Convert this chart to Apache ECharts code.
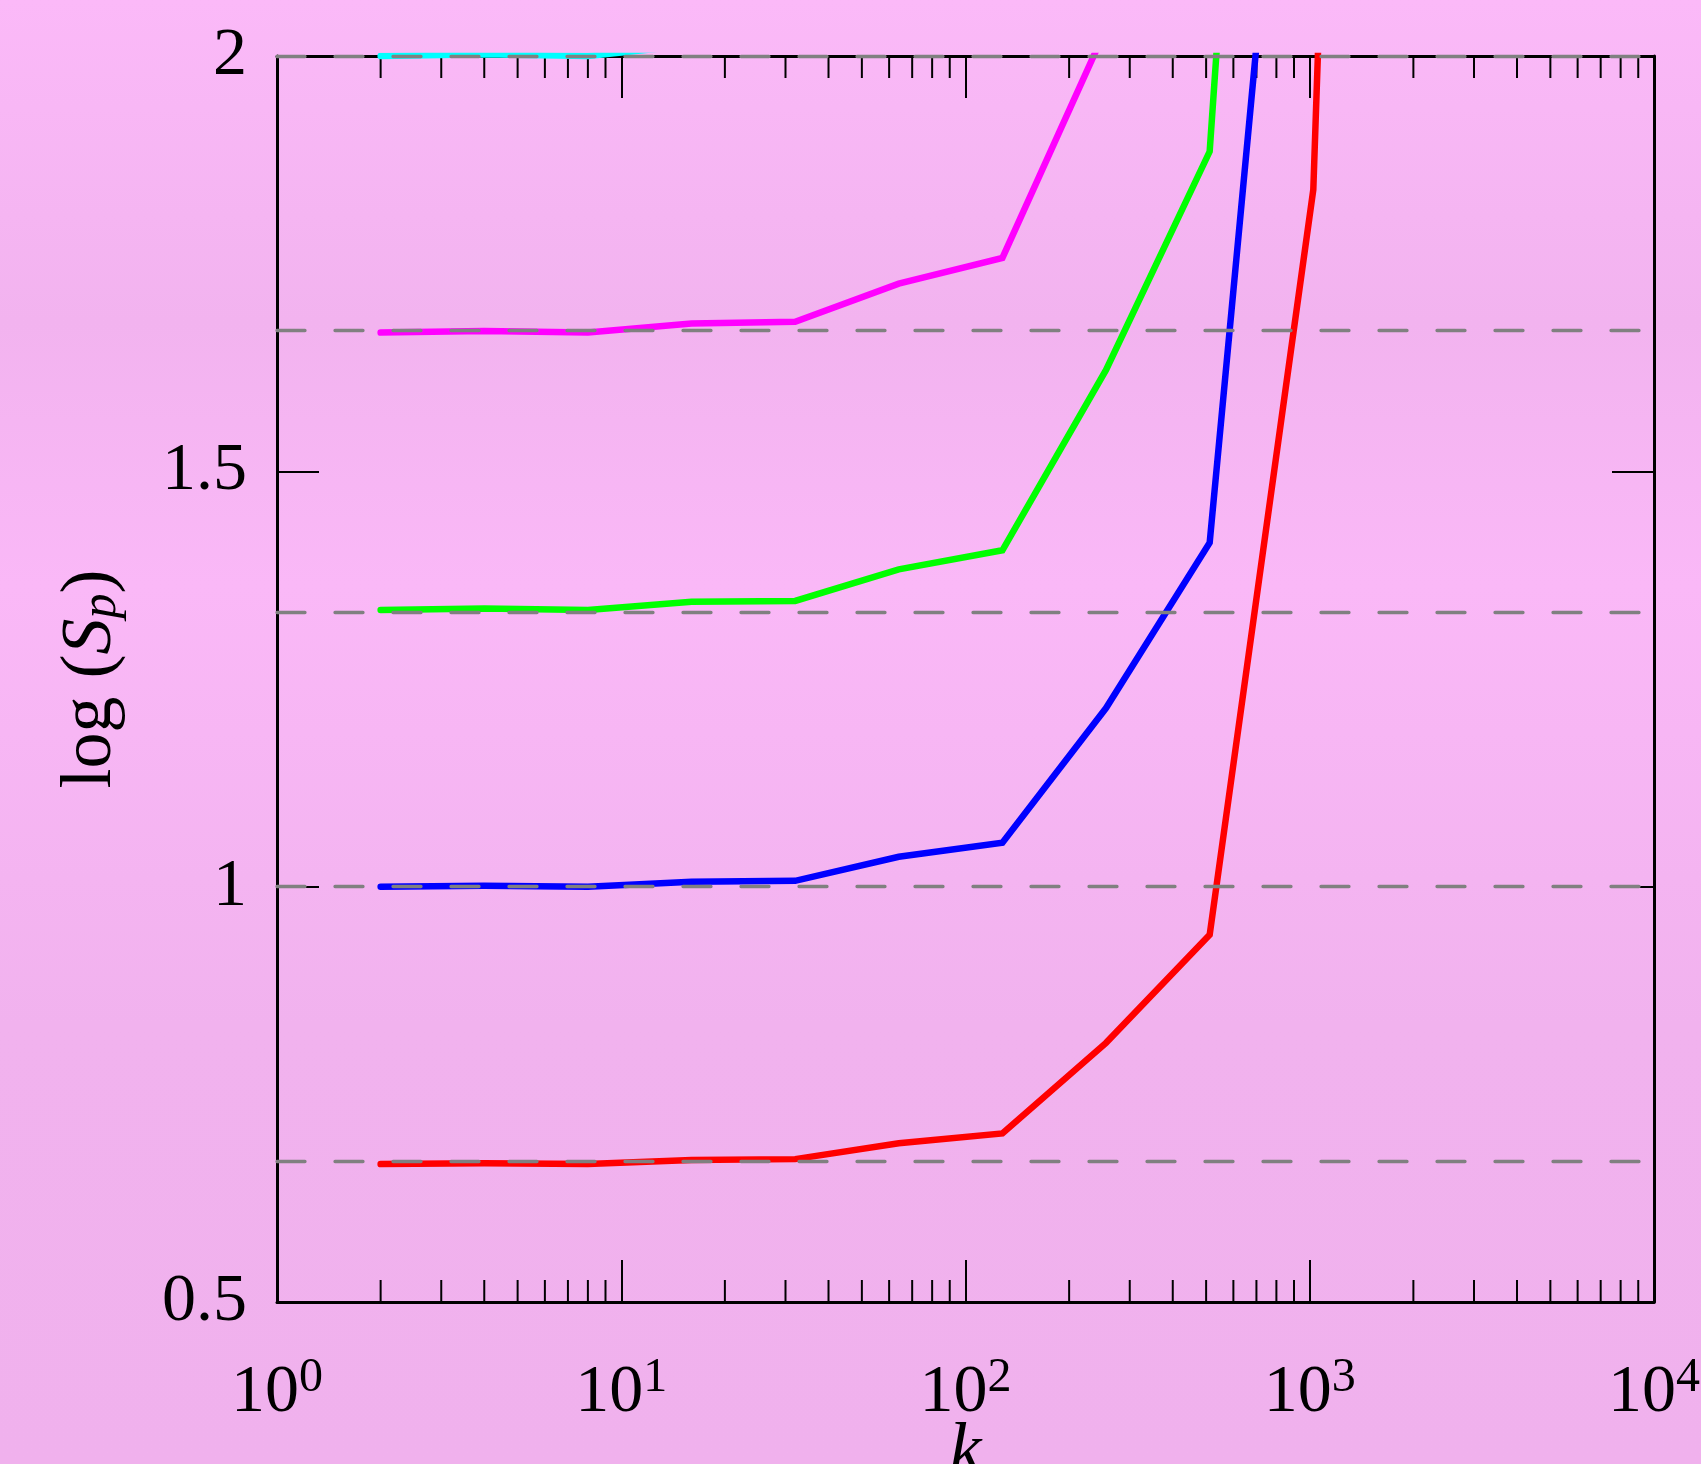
<!DOCTYPE html>
<html>
<head>
<meta charset="utf-8">
<script src="https://cdn.jsdelivr.net/npm/echarts@6/dist/echarts.min.js"></script>
<style>
  html, body { margin: 0; padding: 0; }
  #chart { width: 1701px; height: 1464px; }
</style>
</head>
<body>
<div id="chart"></div>
<script>
// k values (x, log axis) shared by all curves
const kValues = [2, 4, 8, 16, 32, 64, 128, 256, 512, 1024, 2048];
// log(S_p)
const redValues = [0.666, 0.667, 0.666, 0.671, 0.672, 0.691, 0.703, 0.812, 0.942, 1.839, 5.5];
const blueValues = [1.0, 1.001, 1.0, 1.006, 1.007, 1.036, 1.053, 1.215, 1.414, 2.74];
const greenValues = [1.333, 1.335, 1.333, 1.343, 1.344, 1.382, 1.405, 1.622, 1.885, 3.69];
const magentaValues = [1.667, 1.669, 1.667, 1.678, 1.68, 1.726, 1.757, 2.033];
const cyanValues = [2.0, 2.002, 2.0, 2.013];
// dashed reference levels
const refLevels = [0.6667, 1, 1.3333, 1.6667, 2];
// minor ticks of the log axis
const minorTickKs = [2, 3, 4, 5, 6, 7, 8, 9, 20, 30, 40, 50, 60, 70, 80, 90,
  200, 300, 400, 500, 600, 700, 800, 900, 2000, 3000, 4000, 5000, 6000, 7000, 8000, 9000];

const FONT = "Liberation Serif";

function toPairs(vals) {
  return vals.map((v, i) => [kValues[i], v]);
}

function curve(name, color, vals) {
  return {
    name: name,
    type: "line",
    data: toPairs(vals),
    showSymbol: false,
    clip: true,
    z: 3,
    lineStyle: { color: color, width: 6.5, cap: "round", join: "miter" },
  };
}

const chart = echarts.init(document.getElementById("chart"));

const option = {
  animation: false,
  backgroundColor: new echarts.graphic.LinearGradient(0, 0, 0, 1, [
    { offset: 0, color: "#FBB9F8" },
    { offset: 0.22, color: "#F2B3EF" },
    { offset: 0.4, color: "#FAB8F7" },
    { offset: 0.7, color: "#F1B2EE" },
    { offset: 1, color: "#F0B1ED" },
  ]),
  grid: {
    left: 277,
    right: 47,
    top: 56,
    bottom: 162,
    containLabel: false,
    outerBoundsMode: "none",
  },
  xAxis: [
    {
      type: "log",
      logBase: 10,
      min: 1,
      max: 10000,
      position: "bottom",
      name: "k",
      nameLocation: "middle",
      nameGap: 115,
      nameMoveOverlap: false,
      nameTextStyle: {
        fontFamily: FONT,
        fontStyle: "italic",
        fontSize: 72,
        color: "#000",
      },
      axisLine: { show: true, lineStyle: { color: "#000", width: 3 } },
      axisTick: { show: true, inside: true, length: 42, lineStyle: { color: "#000", width: 2 } },
      splitLine: { show: false },
      axisLabel: {
        margin: 52,
        formatter: function (value) {
          return "{b|10}{sup|" + Math.round(Math.log10(value)) + "}";
        },
        rich: {
          b: { fontFamily: FONT, fontSize: 68, lineHeight: 78, color: "#000" },
          sup: { fontFamily: FONT, fontSize: 48, lineHeight: 40, verticalAlign: "top", color: "#000" },
        },
      },
    },
    {
      type: "log",
      logBase: 10,
      min: 1,
      max: 10000,
      position: "top",
      axisLine: { show: true, lineStyle: { color: "#000", width: 3 } },
      axisTick: { show: true, inside: true, length: 42, lineStyle: { color: "#000", width: 2 } },
      axisLabel: { show: false },
      splitLine: { show: false },
    },
  ],
  yAxis: [
    {
      type: "value",
      min: 0.5,
      max: 2,
      interval: 0.5,
      position: "left",
      name: "{n|log (}{it|S}{sub|p}{n|)}",
      nameLocation: "middle",
      nameGap: 150,
      nameMoveOverlap: false,
      nameTextStyle: {
        rich: {
          n: { fontFamily: FONT, fontSize: 72, lineHeight: 72, color: "#000" },
          it: { fontFamily: FONT, fontStyle: "italic", fontSize: 72, lineHeight: 72, color: "#000" },
          sub: { fontFamily: FONT, fontStyle: "italic", fontSize: 50, lineHeight: 30, verticalAlign: "bottom", color: "#000" },
        },
      },
      axisLine: { show: true, lineStyle: { color: "#000", width: 3 } },
      axisTick: { show: true, inside: true, length: 42, lineStyle: { color: "#000", width: 2 } },
      splitLine: { show: false },
      axisLabel: {
        margin: 30,
        fontFamily: FONT,
        fontSize: 68,
        color: "#000",
      },
    },
    {
      type: "value",
      min: 0.5,
      max: 2,
      interval: 0.5,
      position: "right",
      axisLine: { show: true, lineStyle: { color: "#000", width: 3 } },
      axisTick: { show: true, inside: true, length: 42, lineStyle: { color: "#000", width: 2 } },
      axisLabel: { show: false },
      splitLine: { show: false },
    },
  ],
  series: [
    {
      name: "minorTicks",
      type: "custom",
      silent: true,
      z: 1,
      data: minorTickKs.map((k) => [k, 0.5]),
      encode: { x: 0, y: 1 },
      renderItem: function (params, api) {
        const k = api.value(0);
        const bottom = api.coord([k, 0.5]);
        const top = api.coord([k, 2]);
        const st = { stroke: "#000", lineWidth: 2 };
        return {
          type: "group",
          children: [
            { type: "line", shape: { x1: bottom[0], y1: bottom[1], x2: bottom[0], y2: bottom[1] - 22 }, style: st },
            { type: "line", shape: { x1: top[0], y1: top[1], x2: top[0], y2: top[1] + 22 }, style: st },
          ],
        };
      },
    },
    {
      name: "ref",
      type: "line",
      data: [],
      z: 2,
      markLine: {
        silent: true,
        symbol: ["none", "none"],
        label: { show: false },
        lineStyle: { color: "#808080", width: 3.3, type: [28, 30], cap: "round" },
        data: refLevels.map((v) => ({ yAxis: v })),
      },
    },
    curve("cyan", "#00FFFF", cyanValues),
    curve("magenta", "#FF00FF", magentaValues),
    curve("green", "#00FF00", greenValues),
    curve("blue", "#0000FF", blueValues),
    curve("red", "#FF0000", redValues),
  ],
};

chart.setOption(option);
</script>
</body>
</html>
